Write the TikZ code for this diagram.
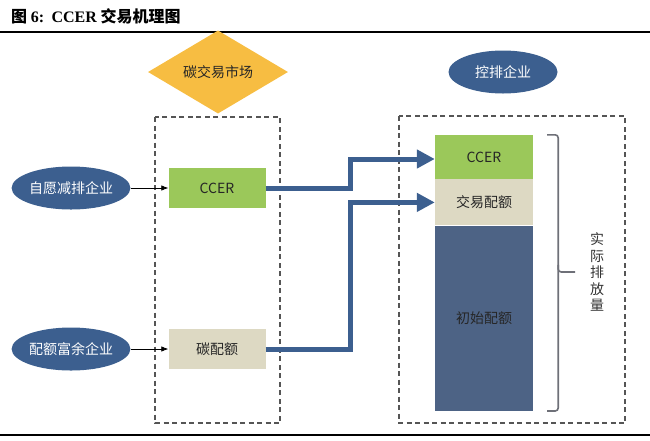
\documentclass[tikz,border=0pt]{standalone}
\usepackage{fontspec}
\setmainfont{Liberation Serif}
\newfontfamily\cjkfont{Noto Sans CJK SC}
\usepackage{tikz}
\usetikzlibrary{shapes,arrows,arrows.meta,positioning,calc}

\definecolor{marketyellow}{RGB}{247,189,66}
\definecolor{firmblue}{RGB}{60,95,143}
\definecolor{ccergreen}{RGB}{155,200,90}
\definecolor{quotabeige}{RGB}{221,217,195}
\definecolor{basebar}{RGB}{77,99,133}
\definecolor{dashgray}{RGB}{85,85,85}
\definecolor{bracegray}{RGB}{110,112,120}

\begin{document}
\begin{tikzpicture}[x=1pt, y=-1pt, node distance=146pt, auto, font=\cjkfont\fontsize{14}{16.5}\selectfont]
\tikzstyle{firm} = [ellipse, fill=firmblue, text=white, minimum width=109pt, minimum height=43pt, inner sep=0pt]
\tikzstyle{market} = [diamond, fill=marketyellow, text=black!85, minimum width=140pt, minimum height=64pt, inner sep=0pt]
\tikzstyle{credit} = [rectangle, text=black!85, minimum width=97pt, minimum height=40pt, inner sep=0pt]
\tikzstyle{bar} = [rectangle, text=black!85, minimum width=98pt, inner sep=0pt]
\tikzstyle{zone} = [draw=dashgray, dash pattern=on 5pt off 3.5pt, line width=1.1pt]
\tikzstyle{line} = [draw, -{Latex[length=7pt,width=5.5pt]}, line width=0.7pt]
\tikzstyle{flow} = [draw=firmblue, line width=5pt, -{Triangle[length=18pt,width=18pt]}]
\tikzstyle{rule} = [draw=black, line width=2pt]

\useasboundingbox (0,0) rectangle (650,440);

% title and rules
\node [anchor=west, inner sep=0pt] (title) at (11,16) {\fontsize{16}{19}\selectfont\bfseries 图 {\rmfamily 6:}\ \ {\rmfamily CCER} 交易机理图};
\path [rule] (0,32) -- (650,32);
\path [rule] (0,435) -- (650,435);

% market and trading firms
\node [market] (market) at (218,72) {碳交易市场};
\node [firm] (emitter) at (503,72) {控排企业};
\node [firm] (voluntary) at (71,188) {自愿减排企业};
\node [credit, fill=ccergreen, right of=voluntary] (ccer) {CCER};
\node [firm] (surplus) at (71,349) {配额富余企业};
\node [credit, fill=quotabeige, right of=surplus] (quota) {碳配额};

% emission stack
\node [bar, fill=ccergreen, minimum height=44pt] (barccer) at (484,157) {CCER};
\node [bar, fill=quotabeige, minimum height=46pt, below=0pt of barccer] (bartrade) {交易配额};
\node [bar, fill=basebar, minimum height=185pt, below=0pt of bartrade] (barinit) {初始配额};

% dashed zones
\draw [zone] (155,117) rectangle (280,423);
\draw [zone] (399,116) rectangle (625,423);

% connectors
\path [line] (voluntary) -- (ccer);
\path [line] (surplus) -- (quota);
\path [flow] (ccer.east) -- ++(85,0) |- (bartrade.west |- 0,159);
\path [flow] (quota.east) -- ++(85,0) |- (bartrade.west);

% brace
\coordinate (bracetop) at ($(barccer.north east)+(14,0)$);
\coordinate (bracebot) at ($(barinit.south east)+(14,0)$);
\coordinate (bracetip) at (575,272);
\draw [bracegray, line width=1.6pt, rounded corners=3pt] (bracetop) -- ++(11,0) |- (bracetip);
\draw [bracegray, line width=1.6pt, rounded corners=3pt] ($(bracetop)+(11,130)$) |- (bracebot);
\node [text=black!80, align=center, inner sep=0pt] (actual) at (597,272) {实\\际\\排\\放\\量};
\end{tikzpicture}
\end{document}
